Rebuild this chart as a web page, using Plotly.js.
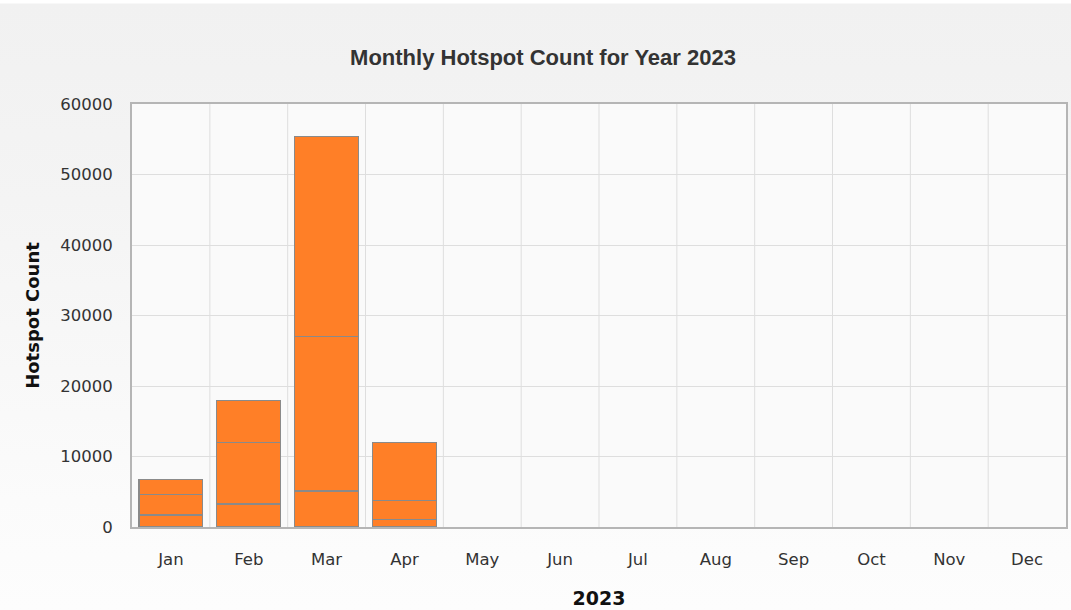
<!DOCTYPE html>
<html>
<head>
<meta charset="utf-8">
<script src="https://cdn.plot.ly/plotly-3.0.1.min.js"></script>
<style>
html,body{margin:0;padding:0;background:#ffffff;}
#chart{width:1071px;height:610px;background:linear-gradient(to bottom,#ffffff 0px,#ffffff 3px,#f1f1f1 4px,#f4f4f4 200px,#fbfbfb 500px,#fdfdfd 610px);}
</style>
</head>
<body>
<div id="chart"></div>
<script>
const months = ["Jan","Feb","Mar","Apr","May","Jun","Jul","Aug","Sep","Oct","Nov","Dec"];
const segment1 = [1700, 3260, 5100, 1040, 0, 0, 0, 0, 0, 0, 0, 0];
const segment2 = [2950, 8740, 21900, 2690, 0, 0, 0, 0, 0, 0, 0, 0];
const segment3 = [2050, 6000, 28400, 8270, 0, 0, 0, 0, 0, 0, 0, 0];
const yTicks = [0, 10000, 20000, 30000, 40000, 50000, 60000];

const traces = [segment1, segment2, segment3].map(function(vals){
  return {
    type: "bar", x: months, y: vals, width: 0.82, hoverinfo: "y", showlegend: false,
    marker: {color: "#ff7f27", line: {color: "#8a8a8a", width: vals.map(function(v){ return v > 0 ? 1.2 : 0; })}}
  };
});

const layout = {
  width: 1071, height: 610,
  barmode: "stack",
  paper_bgcolor: "rgba(0,0,0,0)",
  plot_bgcolor: "#fafafa",
  margin: {l: 132, r: 5, t: 104, b: 83},
  title: {text: "Monthly Hotspot Count for Year 2023", font: {family: "Liberation Sans, Arial, sans-serif", size: 22, color: "#333333", weight: "bold"}, x: 543/1071, xanchor: "center", y: 1 - 57/610, yref: "container", yanchor: "middle"},
  xaxis: {
    type: "category", categoryorder: "array", categoryarray: months,
    showgrid: false, showline: true, mirror: true, linecolor: "#b5b5b5", linewidth: 2,
    ticks: "", tickfont: {family: "DejaVu Sans, Verdana, sans-serif", size: 16.5, color: "#333333"},
    ticklabelstandoff: 16,
    title: {text: "2023", font: {family: "DejaVu Sans, Verdana, sans-serif", size: 19, color: "#111111", weight: "bold"}, standoff: 24}
  },
  yaxis: {
    range: [0, 60000], tickvals: yTicks, ticktext: yTicks.map(String),
    showgrid: true, gridcolor: "#dedede", gridwidth: 1,
    showline: true, mirror: true, linecolor: "#b5b5b5", linewidth: 2, zeroline: false,
    ticks: "", tickfont: {family: "DejaVu Sans, Verdana, sans-serif", size: 16.5, color: "#333333"},
    ticklabelstandoff: 14,
    title: {text: "Hotspot Count", font: {family: "DejaVu Sans, Verdana, sans-serif", size: 18, color: "#111111", weight: "bold"}, standoff: 16}
  },
  shapes: months.slice(1).map(function(m, i){
    return {type: "line", xref: "x", yref: "paper", x0: i + 0.5, x1: i + 0.5, y0: 0, y1: 1, line: {color: "#dedede", width: 1}, layer: "below"};
  })
};

Plotly.newPlot("chart", traces, layout, {displayModeBar: false, staticPlot: true});
</script>
</body>
</html>
